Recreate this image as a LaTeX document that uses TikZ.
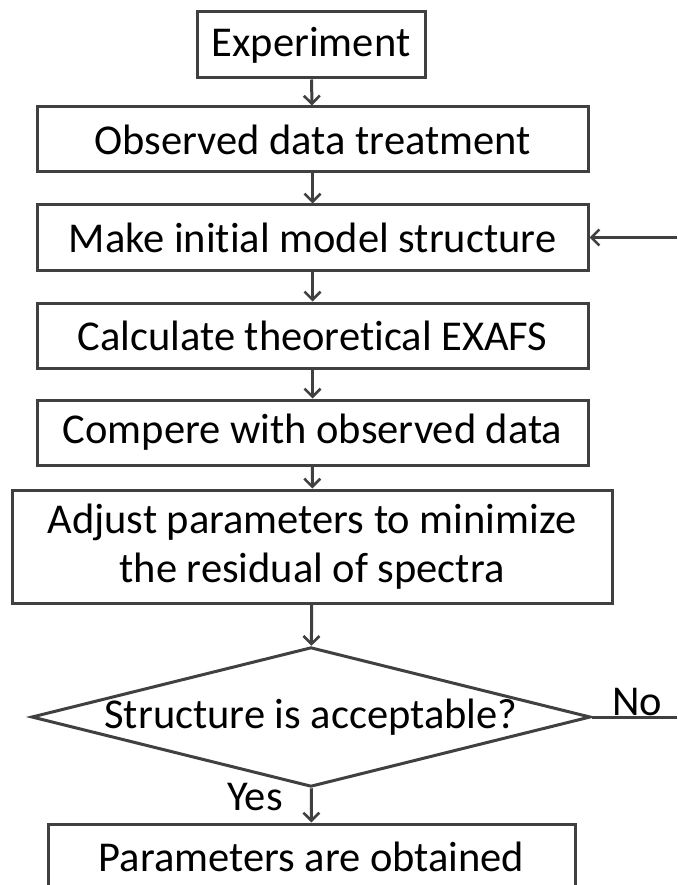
\documentclass[tikz,border=0pt]{standalone}
\usepackage{fontspec}
\setmainfont[Ligatures=CommonOff]{Carlito}
\usetikzlibrary{shapes.geometric,arrows.meta}
\definecolor{inkgray}{RGB}{64,64,64}
\begin{document}
\begin{tikzpicture}[x=1pt,y=-1pt,
  every node/.style={font=\fontsize{42.5}{49}\selectfont},
  stepbox/.style={draw=inkgray,line width=3pt,rectangle,inner sep=0pt,align=center},
  flow/.style={draw=inkgray,line width=3pt,-{Straight Barb[length=8pt,width=16pt,line width=2.6pt]}},
  plain/.style={draw=inkgray,line width=3pt}]
\clip (0,0) rectangle (677,885);
\fill[white] (0,0) rectangle (677,885);

\node[stepbox,minimum width=228pt,minimum height=66pt] (exp) at (311,45) {Experiment};
\node[stepbox,minimum width=551pt,minimum height=65pt] (obs) at (312.5,139.5) {Observed data treatment};
\node[stepbox,minimum width=551pt,minimum height=65pt] (make) at (312.5,237.5) {Make initial model structure};
\node[stepbox,minimum width=551pt,minimum height=65pt] (calc) at (312.5,335.5) {Calculate theoretical EXAFS};
\node[stepbox,minimum width=551pt,minimum height=65pt] (comp) at (312.5,432.5) {Compere with observed data};
\node[stepbox,minimum width=600pt,minimum height=113pt] (adj) at (312,546.5) {Adjust parameters to minimize\\the residual of spectra};
\node[draw=inkgray,line width=3pt,diamond,inner sep=0pt,aspect=4,
      minimum width=559pt,minimum height=138pt] (dec) at (311,717) {Structure is acceptable?};
\node[stepbox,minimum width=527pt,minimum height=66pt] (res) at (311.5,857) {Parameters are obtained};

\coordinate (back) at (677,237.5);
\coordinate (noend) at (677,717);

\draw[flow] (exp) -- (obs);
\draw[flow] (obs) -- (make);
\draw[flow] (make) -- (calc);
\draw[flow] (calc) -- (comp);
\draw[flow] (comp) -- (adj);
\draw[flow] (adj) -- (dec);
\draw[flow] (dec) -- (res);
\draw[flow] (back) -- (make.east);
\draw[plain] (dec.east) -- (noend);

\node[anchor=base,inner sep=0pt] (no) at (637,715) {No};
\node[anchor=base,inner sep=0pt] (yes) at (255,810) {Yes};
\end{tikzpicture}
\end{document}
